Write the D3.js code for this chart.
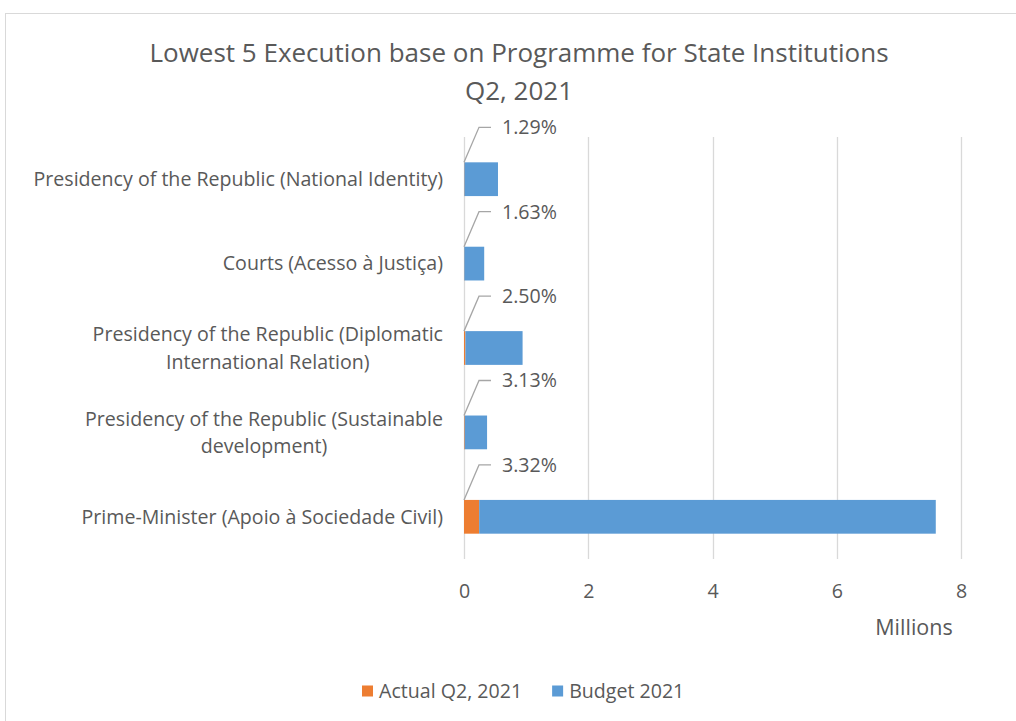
<!DOCTYPE html>
<html>
<head>
<meta charset="utf-8">
<script src="https://cdn.jsdelivr.net/npm/d3@7"></script>
<style>
  html, body { margin: 0; padding: 0; background: #fff; }
  svg { display: block; font-family: "Open Sans", sans-serif; }
</style>
</head>
<body>
<svg id="chart" width="1016" height="721"></svg>
<script>
// Programmes, top to bottom
const categories = [
  ["Presidency of the Republic (National Identity)"],
  ["Courts (Acesso à Justiça)"],
  ["Presidency of the Republic (Diplomatic", "International Relation)"],
  ["Presidency of the Republic (Sustainable", "development)"],
  ["Prime-Minister (Apoio à Sociedade Civil)"]
];
// Budget 2021, millions
const budget = [0.54, 0.32, 0.92, 0.36, 7.35];
// Execution rate (actual / budget), percent
const execPct = [1.29, 1.63, 2.50, 3.13, 3.32];
// Actual Q2 2021, millions
const actual = budget.map((b, i) => b * execPct[i] / 100);
const tickValues = [0, 2, 4, 6, 8];
const seriesNames = ["Actual Q2, 2021", "Budget 2021"];
const colors = ["#ED7D31", "#5B9BD5"];

const svg = d3.select("#chart");
const textColor = "#595959";
const fs = 19.6;

// outer chart frame
svg.append("rect")
  .attr("x", 5.5).attr("y", 13.5)
  .attr("width", 1040).attr("height", 740)
  .attr("fill", "none").attr("stroke", "#d9d9d9");

// title
svg.append("text").attr("x", 519).attr("y", 62)
  .attr("text-anchor", "middle").attr("font-size", 26).attr("fill", textColor)
  .text("Lowest 5 Execution base on Programme for State Institutions");
svg.append("text").attr("x", 519).attr("y", 100)
  .attr("text-anchor", "middle").attr("font-size", 26).attr("fill", textColor)
  .text("Q2, 2021");

const plot = { left: 464, right: 961, top: 137, bottom: 559 };

const x = d3.scaleLinear().domain([0, 8]).range([plot.left, plot.right]);
const y = d3.scaleBand().domain(d3.range(categories.length))
  .range([plot.top, plot.bottom]).paddingInner(0.6).paddingOuter(0.3);

// gridlines
svg.append("g").selectAll("line").data(tickValues).join("line")
  .attr("x1", d => Math.round(x(d)) + 0.5).attr("x2", d => Math.round(x(d)) + 0.5)
  .attr("y1", plot.top).attr("y2", plot.bottom)
  .attr("stroke", "#d9d9d9").attr("stroke-width", 1.3);

// x axis tick labels
const xAxis = d3.axisBottom(x).tickValues(tickValues).tickSize(0).tickPadding(0);
const gx = svg.append("g").attr("transform", `translate(0,${plot.bottom + 32})`).call(xAxis);
gx.select(".domain").remove();
gx.selectAll("text").attr("font-size", fs).attr("fill", textColor)
  .attr("font-family", "Open Sans, sans-serif").attr("dy", "0.35em");

svg.append("text").attr("x", 914).attr("y", 627).attr("dy", "0.35em")
  .attr("text-anchor", "middle").attr("font-size", 21.5).attr("fill", textColor)
  .text("Millions");

// stacked bars
const stackData = categories.map((c, i) => ({ i, actual: actual[i], budget: budget[i] }));
const stack = d3.stack().keys(["actual", "budget"])(stackData);
svg.append("g").selectAll("g").data(stack).join("g")
  .attr("fill", (d, k) => colors[k])
  .selectAll("rect").data(d => d).join("rect")
  .attr("x", d => x(d[0]))
  .attr("width", d => x(d[1]) - x(d[0]))
  .attr("y", d => y(d.data.i))
  .attr("height", y.bandwidth());

// category labels (right aligned block, lines centred on each other)
const catG = svg.append("g");
categories.forEach((lines, i) => {
  const g = catG.append("g");
  const lh = 27.5;
  const cy = y(i) + y.bandwidth() / 2;
  const texts = lines.map((t, j) => g.append("text")
    .attr("y", cy + (j - (lines.length - 1) / 2) * lh)
    .attr("dy", "0.35em")
    .attr("font-size", fs).attr("fill", textColor)
    .attr("text-anchor", "middle").text(t));
  const maxW = d3.max(texts, t => t.node().getComputedTextLength());
  texts.forEach(t => t.attr("x", 443 - maxW / 2));
});

// execution-rate labels with leader lines
const lab = svg.append("g");
execPct.forEach((p, i) => {
  const x0 = x(0), yTop = y(i);
  const ly = yTop - 35;
  lab.append("polyline")
    .attr("points", `${x0},${yTop} ${x0 + 15},${ly} ${x0 + 27},${ly}`)
    .attr("fill", "none").attr("stroke", "#a6a6a6").attr("stroke-width", 1.3);
  lab.append("text").attr("x", x0 + 38).attr("y", ly).attr("dy", "0.35em")
    .attr("font-size", fs).attr("fill", textColor)
    .text(p.toFixed(2) + "%");
});

// legend
const leg = svg.append("g").attr("transform", "translate(362,691)");
let lx = 0;
seriesNames.forEach((name, k) => {
  leg.append("rect").attr("x", lx).attr("y", -5.5).attr("width", 11).attr("height", 11)
    .attr("fill", colors[k]);
  const t = leg.append("text").attr("x", lx + 17).attr("y", 0).attr("dy", "0.35em")
    .attr("font-size", fs).attr("fill", textColor).text(name);
  lx += 17 + t.node().getComputedTextLength() + 30;
});
</script>
</body>
</html>
